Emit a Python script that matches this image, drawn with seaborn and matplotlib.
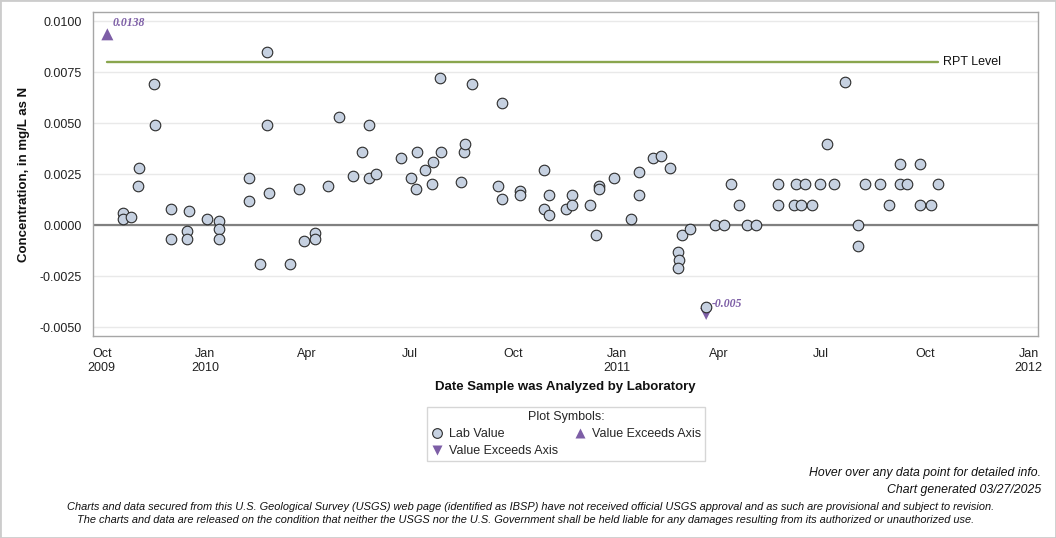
import pandas as pd
import matplotlib.pyplot as plt
import seaborn as sns
from matplotlib.lines import Line2D
from matplotlib.patches import Rectangle

# lab values
lab_dates = [
    '2009-10-20', '2009-10-20', '2009-10-27', '2009-11-02', '2009-11-03', '2009-11-16',
    '2009-11-17', '2009-12-01', '2009-12-01', '2009-12-16', '2009-12-16', '2009-12-17',
    '2010-01-02', '2010-01-13', '2010-01-13', '2010-01-13', '2010-02-09', '2010-02-09',
    '2010-02-18', '2010-02-25', '2010-02-25', '2010-02-26', '2010-03-17', '2010-03-25',
    '2010-03-29', '2010-04-08', '2010-04-08', '2010-04-20', '2010-04-29', '2010-05-12',
    '2010-05-20', '2010-05-26', '2010-05-26', '2010-06-01', '2010-06-23', '2010-07-02',
    '2010-07-07', '2010-07-08', '2010-07-15', '2010-07-21', '2010-07-22', '2010-07-28',
    '2010-07-29', '2010-08-16', '2010-08-18', '2010-08-19', '2010-08-25', '2010-09-17',
    '2010-09-21', '2010-09-21', '2010-10-07', '2010-10-07', '2010-10-28', '2010-10-28',
    '2010-11-02', '2010-11-02', '2010-11-17', '2010-11-22', '2010-11-22', '2010-12-08',
    '2010-12-13', '2010-12-16', '2010-12-16', '2010-12-29', '2011-01-13', '2011-01-20',
    '2011-01-20', '2011-02-02', '2011-02-09', '2011-02-17', '2011-02-24', '2011-02-25',
    '2011-02-24', '2011-02-28', '2011-03-07', '2011-03-21', '2011-03-29', '2011-04-06',
    '2011-04-12', '2011-04-19', '2011-04-26', '2011-05-04', '2011-05-24', '2011-05-24',
    '2011-06-07', '2011-06-09', '2011-06-13', '2011-06-17', '2011-06-23', '2011-06-30',
    '2011-07-06', '2011-07-12', '2011-07-22', '2011-08-03', '2011-08-03', '2011-08-09',
    '2011-08-22', '2011-08-30', '2011-09-09', '2011-09-09', '2011-09-15', '2011-09-27',
    '2011-09-27', '2011-10-06', '2011-10-13',
]
lab_values = [
    0.0006, 0.0003, 0.0004, 0.0019, 0.0028, 0.0069,
    0.0049, 0.0008, -0.00065, -0.0003, -0.00065, 0.0007,
    0.0003, 0.0002, -0.0002, -0.00065, 0.0023, 0.0012,
    -0.0019, 0.0085, 0.0049, 0.0016, -0.0019, 0.0018,
    -0.00075, -0.0004, -0.00065, 0.0019, 0.0053, 0.0024,
    0.0036, 0.0049, 0.0023, 0.0025, 0.0033, 0.0023,
    0.0018, 0.0036, 0.0027, 0.0020, 0.0031, 0.0072,
    0.0036, 0.0021, 0.0036, 0.0040, 0.0069, 0.0019,
    0.0060, 0.0013, 0.0017, 0.0015, 0.0027, 0.0008,
    0.0015, 0.0005, 0.0008, 0.0015, 0.0010, 0.0010,
    -0.0005, 0.0019, 0.0018, 0.0023, 0.0003, 0.0026,
    0.0015, 0.0033, 0.0034, 0.0028, -0.0013, -0.0017,
    -0.0021, -0.0005, -0.0002, -0.0040, 0.0, 0.0,
    0.0020, 0.0010, 0.0, 0.0, 0.0020, 0.0010,
    0.0010, 0.0020, 0.0010, 0.0020, 0.0010, 0.0020,
    0.0040, 0.0020, 0.0070, 0.0, -0.0010, 0.0020,
    0.0020, 0.0010, 0.0030, 0.0020, 0.0020, 0.0030,
    0.0010, 0.0010, 0.0020,
]

# values beyond the axis range (drawn at the edge, labelled with true value)
high_dates = ['2009-10-06']
high_plot = [0.00935]
high_labels = ['0.0138']
low_dates = ['2011-03-21']
low_plot = [-0.00434]
low_labels = ['-0.005']

rpt_level = 0.008

tick_dates = ['2009-10-01', '2010-01-01', '2010-04-01', '2010-07-01', '2010-10-01',
              '2011-01-01', '2011-04-01', '2011-07-01', '2011-10-01', '2012-01-01']
tick_labels = ['Oct\n2009', 'Jan\n2010', 'Apr', 'Jul', 'Oct',
               'Jan\n2011', 'Apr', 'Jul', 'Oct', 'Jan\n2012']
y_ticks = [-0.005, -0.0025, 0.0, 0.0025, 0.005, 0.0075, 0.01]

CIRCLE_FACE = '#c6d1e1'
CIRCLE_EDGE = '#2b2b2b'
PURPLE = '#7d5ea6'
GREEN = '#8aa64e'
AXIS_GREY = '#a6a6a6'

sns.set_theme(style='white')
plt.rcParams['font.family'] = ['Liberation Sans', 'DejaVu Sans']

lab = pd.DataFrame({'date': pd.to_datetime(lab_dates), 'value': lab_values})
high = pd.DataFrame({'date': pd.to_datetime(high_dates), 'value': high_plot})
low = pd.DataFrame({'date': pd.to_datetime(low_dates), 'value': low_plot})

fig = plt.figure(figsize=(10.56, 5.38), dpi=100)
ax = fig.add_axes([0.0884, 0.3755, 0.8943, 0.6017])

ax.set_yticks(y_ticks)
ax.yaxis.grid(True, color='#e9e9e9', lw=1)
ax.set_axisbelow(True)
ax.axhline(0, color='#808080', lw=1.6, zorder=1.5)

start = min(lab['date'].min(), high['date'].min())
end = lab['date'].max()
ax.plot([start, end], [rpt_level, rpt_level], color=GREEN, lw=1.7, zorder=2)
ax.annotate('RPT Level', xy=(end, rpt_level), xytext=(3, 0), textcoords='offset points',
            va='center', ha='left', fontsize=9, color='#111111')

sns.scatterplot(data=high, x='date', y='value', ax=ax, marker='^', s=75,
                color=PURPLE, edgecolor='none', zorder=2.5, legend=False)
sns.scatterplot(data=low, x='date', y='value', ax=ax, marker='v', s=75,
                color=PURPLE, edgecolor='none', zorder=2.5, legend=False)
sns.scatterplot(data=lab, x='date', y='value', ax=ax, s=58, color=CIRCLE_FACE,
                edgecolor=CIRCLE_EDGE, linewidth=0.8, zorder=3, legend=False)

for d, v, t in zip(high['date'], high['value'], high_labels):
    ax.annotate(t, xy=(d, v), xytext=(4, 8), textcoords='offset points', va='center',
                ha='left', fontsize=8.5, color=PURPLE, fontweight='bold', fontstyle='italic',
                family=['Liberation Serif', 'DejaVu Serif'])
for d, v, t in zip(low['date'], low['value'], low_labels):
    ax.annotate(t, xy=(d, v), xytext=(4, 7), textcoords='offset points', va='center',
                ha='left', fontsize=8.5, color=PURPLE, fontweight='bold', fontstyle='italic',
                family=['Liberation Serif', 'DejaVu Serif'])

ax.set_xlim(pd.Timestamp('2009-09-23 14:00'), pd.Timestamp('2012-01-09'))
ax.set_ylim(-0.00542, 0.01043)
ax.set_xticks(pd.to_datetime(tick_dates))
ax.set_xticklabels(tick_labels)
ax.set_yticklabels([f'{v:.4f}' for v in y_ticks])

for sp in ax.spines.values():
    sp.set_visible(True)
    sp.set_color(AXIS_GREY)
    sp.set_linewidth(1)
ax.tick_params(axis='both', direction='out', length=5, width=1, color=AXIS_GREY,
               labelsize=9, labelcolor='#222222', pad=3)
ax.tick_params(axis='x', pad=4)

ax.set_ylabel('Concentration, in mg/L as N', fontsize=9.5, fontweight='bold', color='#111111')
ax.yaxis.set_label_coords(-0.067, 0.5)
ax.set_xlabel('Date Sample was Analyzed by Laboratory', fontsize=9.5, fontweight='bold',
              color='#111111')
ax.xaxis.set_label_coords(0.5, -0.14)

handles = [
    Line2D([], [], marker='o', ls='', mfc=CIRCLE_FACE, mec=CIRCLE_EDGE, mew=0.8, ms=7),
    Line2D([], [], marker='v', ls='', mfc=PURPLE, mec='none', ms=7.5),
    Line2D([], [], marker='^', ls='', mfc=PURPLE, mec='none', ms=7.5),
]
labels = ['Lab Value', 'Value Exceeds Axis', 'Value Exceeds Axis']
leg = fig.legend(handles, labels, loc='center', bbox_to_anchor=(0.536, 0.193), ncol=2,
                 title='Plot Symbols:', fontsize=9, title_fontsize=9, frameon=True,
                 fancybox=False, edgecolor='#cccccc', handlelength=1, handletextpad=0.5,
                 columnspacing=1.2, borderpad=0.3, labelspacing=0.4, borderaxespad=0)
leg.get_frame().set_linewidth(1)

narrow = ['Liberation Sans Narrow', 'Liberation Sans', 'DejaVu Sans']
fig.text(0.9858, 0.1208, 'Hover over any data point for detailed info.', ha='right',
         va='center', fontsize=8.8, fontstyle='italic', family=narrow, color='#111111')
fig.text(0.9858, 0.0893, 'Chart generated 03/27/2025', ha='right', va='center',
         fontsize=8.8, fontstyle='italic', family=narrow, color='#111111')
fig.text(0.502, 0.0576, 'Charts and data secured from this U.S. Geological Survey (USGS) web page '
         '(identified as IBSP) have not received official USGS approval and as such are '
         'provisional and subject to revision.', ha='center', va='center', fontsize=7.95,
         fontstyle='italic', family=narrow, color='#111111')
fig.text(0.498, 0.0335, 'The charts and data are released on the condition that neither the USGS '
         'nor the U.S. Government shall be held liable for any damages resulting from its '
         'authorized or unauthorized use.', ha='center', va='center', fontsize=7.95,
         fontstyle='italic', family=narrow, color='#111111')

fig.add_artist(Rectangle((0, 0), 1, 1, transform=fig.transFigure, fill=False,
                         edgecolor='#cccccc', lw=2))

fig.savefig('out.png', dpi=100)
